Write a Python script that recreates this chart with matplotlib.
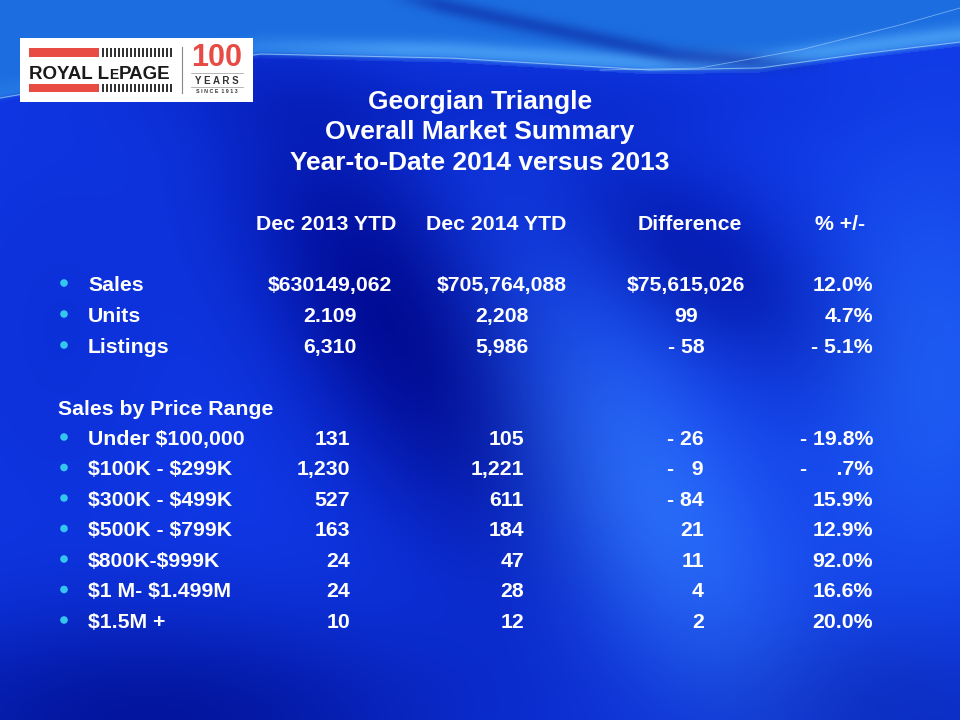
import numpy as np
import matplotlib
matplotlib.use("Agg")
import matplotlib.pyplot as plt
from matplotlib.patches import Rectangle, Circle

plt.rcParams["text.parse_math"] = False
FONT = "Liberation Sans"

title_lines = ["Georgian Triangle", "Overall Market Summary", "Year-to-Date 2014 versus 2013"]
headers = ["Dec 2013 YTD", "Dec 2014 YTD", "Difference", "% +/-"]

top_labels = ["Sales", "Units", "Listings"]
top_2013 = ["$630149,062", "2.109", "6,310"]
top_2014 = ["$705,764,088", "2,208", "5,986"]
top_diff = ["$75,615,026", "99", "- 58"]
top_pct = ["12.0%", "4.7%", "- 5.1%"]

section_title = "Sales by Price Range"
range_labels = ["Under $100,000", "$100K - $299K", "$300K - $499K", "$500K - $799K",
                "$800K-$999K", "$1 M- $1.499M", "$1.5M +"]
range_2013 = ["131", "1,230", "527", "163", "24", "24", "10"]
range_2014 = ["105", "1,221", "611", "184", "47", "28", "12"]
range_diff = ["- 26", "-   9", "- 84", "21", "11", "4", "2"]
range_pct = ["- 19.8%", "-     .7%", "15.9%", "12.9%", "92.0%", "16.6%", "20.0%"]

W, H = 960, 720
fig = plt.figure(figsize=(9.6, 7.2), dpi=100)
ax = fig.add_axes([0, 0, 1, 1])
ax.set_xlim(0, W)
ax.set_ylim(H, 0)
ax.axis("off")

# ---- background gradient ----
yy, xx = np.mgrid[0:H, 0:W].astype(float)
base = np.array([0.06, 0.22, 0.90])
img = np.ones((H, W, 3)) * base

def blob(cx, cy, sa, sb, ang, col, amt):
    t = np.deg2rad(ang)
    u = (xx - cx) * np.cos(t) + (yy - cy) * np.sin(t)
    v = -(xx - cx) * np.sin(t) + (yy - cy) * np.cos(t)
    g = np.exp(-((u / sa) ** 2 + (v / sb) ** 2))
    return g[..., None] * (np.array(col) - base) * amt

img += blob(400, 330, 260, 110, 60, [0.0, 0.04, 0.58], 1.0)
img += blob(700, 260, 160, 80, 35, [0.0, 0.06, 0.62], 0.7)
img += blob(650, 500, 230, 110, 60, [0.18, 0.46, 1.0], 0.85)
img += blob(930, 380, 120, 220, 0, [0.14, 0.42, 0.98], 0.7)
img += blob(150, 720, 320, 110, 0, [0.0, 0.05, 0.55], 0.8)
img += blob(60, 330, 120, 200, 0, [0.04, 0.16, 0.80], 0.5)
img += blob(880, 710, 180, 90, 0, [0.02, 0.10, 0.62], 0.5)
img += blob(480, 100, 300, 40, 0, [0.03, 0.15, 0.78], 0.5)

# top swoosh region
X = xx[0]
Lx = [0, 150, 260, 450, 650, 760, 860, 960]
Ly = [100, 74, 56, 60, 72, 70, 56, 44]
L = np.interp(X, Lx, Ly)
D = np.interp(X, [380, 420, 500, 580, 674, 765, 830], [-10, 0, 18, 35, 55, 62, 64])
d = L[None, :] - yy
above = np.clip(d / 5.0, 0, 1)
topcol = np.array([0.11, 0.43, 0.88])
img = img * (1 - above[..., None]) + topcol * above[..., None]
# light cyan strip just above the edge
strip = np.exp(-((d - 10) / 10.0) ** 2) * (d > -2)
strip *= np.clip((X[None, :] - 150) / 250.0, 0.2, 1)
img += strip[..., None] * (np.array([0.32, 0.66, 0.98]) - img) * 0.7
# dark curving band in the upper area
dd = yy - D[None, :]
valid = np.clip((830 - X) / 80.0, 0, 1) * np.clip((X - 380) / 60.0, 0, 1)
dark = np.exp(-(dd / 9.0) ** 2) * valid[None, :]
img += dark[..., None] * (np.array([0.05, 0.18, 0.66]) - img) * 0.6
img = np.clip(img, 0, 1)
ax.imshow(img, extent=(0, W, H, 0), aspect="auto", zorder=0, interpolation="bilinear")

xs = np.linspace(0, W, 400)
Ls = np.interp(xs, Lx, Ly)
ax.plot(xs, Ls - 2, color="#b8e4ff", lw=0.8, alpha=0.6, zorder=1)
xr = np.linspace(600, 960, 200)
yr = np.interp(xr, [600, 700, 800, 900, 960], [70, 68, 50, 25, 8])
ax.plot(xr, yr, color="#b8e4ff", lw=0.6, alpha=0.55, zorder=1)

# ---- logo ----
ax.add_patch(Rectangle((20, 38), 233, 64, facecolor="white", edgecolor="none", zorder=2))
red = "#e84a44"
ax.add_patch(Rectangle((29, 48), 70, 8.5, facecolor=red, edgecolor="none", zorder=3))
ax.add_patch(Rectangle((29, 83.5), 70, 8.5, facecolor=red, edgecolor="none", zorder=3))
for yb in (48, 83.5):
    for i in range(18):
        ax.add_patch(Rectangle((102 + i * 4.0, yb), 2.0, 8.5, facecolor="#333333",
                               edgecolor="none", zorder=3))
lkw = dict(va="baseline", fontweight="bold", color="#1a1a1a", family=FONT, zorder=3)
t1 = ax.text(29, 79, "ROYAL L", ha="left", fontsize=13.5, **lkw)
fig.canvas.draw()
bb = t1.get_window_extent()
ypix = fig.bbox.height - (79 / H) * fig.bbox.height
t2 = ax.text(bb.x1, ypix, "E", ha="left", fontsize=10, transform=None, **lkw)
fig.canvas.draw()
bb2 = t2.get_window_extent()
ax.text(bb2.x1, ypix, "PAGE", ha="left", fontsize=13.5, transform=None, **lkw)
ax.plot([182, 182], [47, 93], color="#888888", lw=0.8, zorder=3)
ax.text(217, 66, "100", ha="center", va="baseline", fontsize=22, fontweight="bold",
        color=red, family=FONT, zorder=3)
ax.plot([191, 243], [73, 73], color="#999999", lw=0.5, zorder=3)
ax.text(217, 84, "Y E A R S", ha="center", va="baseline", fontsize=7, fontweight="bold",
        color="#333333", family=FONT, zorder=3)
ax.plot([191, 243], [86.5, 86.5], color="#999999", lw=0.5, zorder=3)
ax.text(217, 93, "S I N C E  1 9 1 3", ha="center", va="baseline", fontsize=3.8,
        fontweight="bold", color="#333333", family=FONT, zorder=3)

# ---- title ----
for i, t in enumerate(title_lines):
    ax.text(480, 108.5 + i * 31, t, ha="center", va="baseline", fontsize=19,
            fontweight="bold", color="white", family=FONT, zorder=4)

# ---- table ----
fs = 15.3
kw = dict(fontsize=fs, fontweight="bold", color="white", family=FONT, va="baseline", zorder=4)
bullet = "#34c6ee"
off = 7.8

hx = [326, 496, 690, 840]
for x, h in zip(hx, headers):
    ax.text(x, 222 + off, h, ha="center", **kw)

top_y = [283, 314, 345]
for i, y in enumerate(top_y):
    ax.add_patch(Circle((64, y), 3.8, facecolor=bullet, edgecolor="none", zorder=4))
    ax.text(88, y + off, top_labels[i], ha="left", **kw)
    ax.text(330, y + off, top_2013[i], ha="center", **kw)
    ax.text(502, y + off, top_2014[i], ha="center", **kw)
    ax.text(686, y + off, top_diff[i], ha="center", **kw)
    ax.text(873, y + off, top_pct[i], ha="right", **kw)

ax.text(58, 407 + off, section_title, ha="left", **kw)

for i in range(len(range_labels)):
    y = 437 + i * 30.5
    ax.add_patch(Circle((64, y), 3.8, facecolor=bullet, edgecolor="none", zorder=4))
    ax.text(88, y + off, range_labels[i], ha="left", **kw)
    ax.text(350, y + off, range_2013[i], ha="right", **kw)
    ax.text(524, y + off, range_2014[i], ha="right", **kw)
    ax.text(704, y + off, range_diff[i], ha="right", **kw)
    ax.text(873, y + off, range_pct[i], ha="right", **kw)

fig.savefig("out.png", dpi=100)
